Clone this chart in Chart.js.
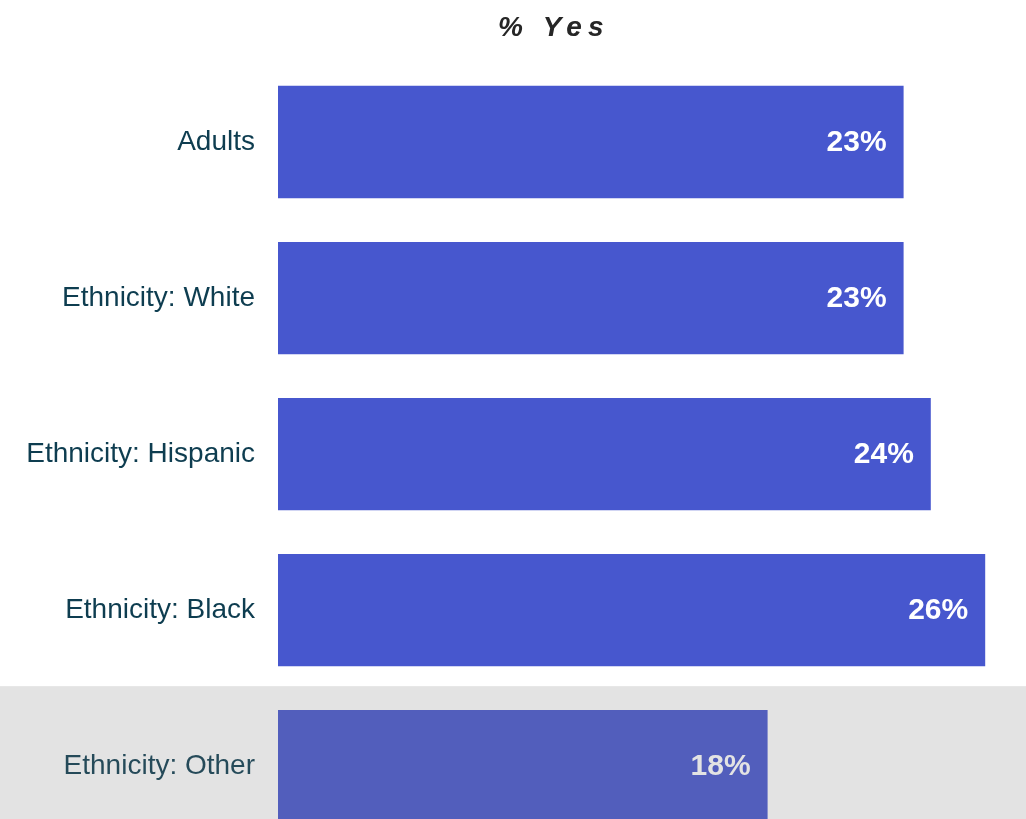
<!DOCTYPE html>
<html>
<head>
<meta charset="utf-8">
<script src="https://cdn.jsdelivr.net/npm/chart.js@4/dist/chart.umd.min.js"></script>
<style>
  html, body { margin: 0; padding: 0; background: #fff; overflow: hidden; }
  canvas { display: block; }
</style>
</head>
<body>
<canvas id="chart" width="1026" height="876"></canvas>
<script>
// chart data
const categories = ['Adults', 'Ethnicity: White', 'Ethnicity: Hispanic', 'Ethnicity: Black', 'Ethnicity: Other'];
const yesValues = [23, 23, 24, 26, 18];
const titleText = '% Yes';
const highlightIndex = 4;

const barColor = '#4757ce';
const labelColor = '#0e3d50';

// title drawn by hand so it can be letter-spaced
const titlePlugin = {
  id: 'spacedTitle',
  afterDraw(chart) {
    const ctx = chart.ctx;
    ctx.save();
    ctx.font = 'italic bold 28px "Liberation Sans", Arial, sans-serif';
    ctx.letterSpacing = '6px';
    ctx.fillStyle = '#262626';
    ctx.textAlign = 'left';
    ctx.textBaseline = 'middle';
    ctx.fillText(titleText, 498, 28);
    ctx.restore();
  }
};

// value labels inside the bar ends
const valuePlugin = {
  id: 'valueLabels',
  afterDatasetsDraw(chart) {
    const ctx = chart.ctx;
    const meta = chart.getDatasetMeta(0);
    ctx.save();
    ctx.font = 'bold 30px "Liberation Sans", Arial, sans-serif';
    ctx.fillStyle = '#ffffff';
    ctx.textAlign = 'right';
    ctx.textBaseline = 'middle';
    meta.data.forEach((bar, i) => {
      ctx.fillText(yesValues[i] + '%', bar.x - 17, bar.y + 1);
    });
    ctx.restore();
  }
};

// grey highlight over the last row
const highlightPlugin = {
  id: 'rowHighlight',
  afterDraw(chart) {
    const y = chart.scales.y;
    const pitch = y.getPixelForValue(1) - y.getPixelForValue(0);
    const top = y.getPixelForValue(highlightIndex) - pitch / 2 - 2;
    const ctx = chart.ctx;
    ctx.save();
    ctx.fillStyle = 'rgba(123,123,123,0.21)';
    ctx.fillRect(0, top, chart.width, chart.height - top);
    ctx.restore();
  }
};

new Chart(document.getElementById('chart').getContext('2d'), {
  type: 'bar',
  data: {
    labels: categories,
    datasets: [{
      data: yesValues,
      backgroundColor: barColor,
      borderWidth: 0,
      categoryPercentage: 1,
      barPercentage: 0.72
    }]
  },
  options: {
    indexAxis: 'y',
    responsive: false,
    animation: false,
    layout: { padding: { top: 64, right: 0, bottom: 0, left: 0 } },
    plugins: {
      legend: { display: false },
      title: { display: false },
      tooltip: { enabled: false }
    },
    scales: {
      x: {
        display: false,
        min: 0,
        max: 27.5
      },
      y: {
        grid: { display: false },
        border: { display: false },
        ticks: {
          color: labelColor,
          padding: 15,
          font: { family: '"Liberation Sans", Arial, sans-serif', size: 28 }
        },
        afterFit(scale) { scale.width = 278; }
      }
    }
  },
  plugins: [valuePlugin, highlightPlugin, titlePlugin]
});
</script>
</body>
</html>
